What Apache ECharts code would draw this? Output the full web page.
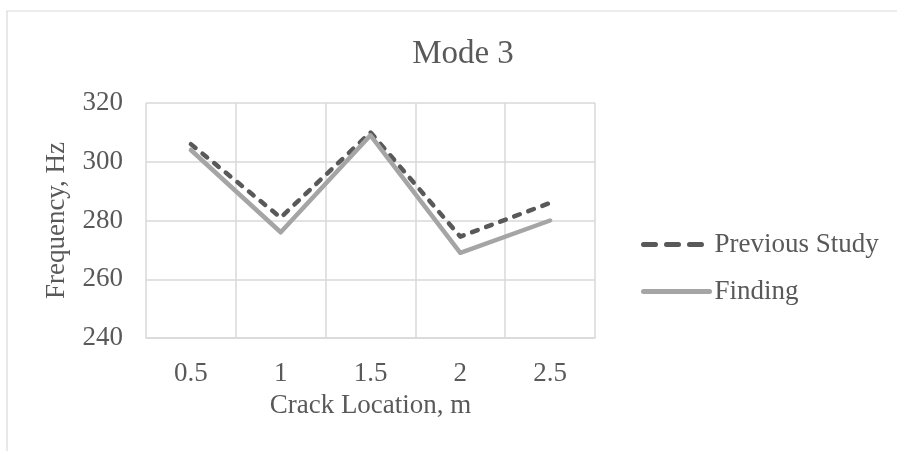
<!DOCTYPE html>
<html>
<head>
<meta charset="utf-8">
<script src="https://cdn.jsdelivr.net/npm/echarts@6/dist/echarts.min.js"></script>
<style>
html,body{margin:0;padding:0;background:#fff;}
#c{width:897px;height:451px;}
</style>
</head>
<body>
<div id="c"></div>
<script>
const categories = ['0.5', '1', '1.5', '2', '2.5'];
const previousStudy = [306, 281, 310, 274.5, 286];
const finding = [304, 276, 309, 269, 280];
const yTicks = { min: 240, max: 320, interval: 20 };
const titleText = 'Mode 3';
const xName = 'Crack Location, m';
const yName = 'Frequency, Hz';

const FONT = '"Liberation Serif", "Times New Roman", serif';
const TXT = '#595959';
const GRID = '#d9d9d9';

const chart = echarts.init(document.getElementById('c'), null, { renderer: 'canvas' });
chart.setOption({
  animation: false,
  backgroundColor: '#ffffff',
  graphic: [{
    type: 'rect',
    shape: { x: 7, y: 11, width: 1000, height: 1000 },
    style: { fill: 'none', stroke: GRID, lineWidth: 1.2 },
    silent: true,
    z: -10
  }],
  title: {
    text: titleText,
    left: 458,
    textAlign: 'center',
    top: 33,
    textStyle: { fontFamily: FONT, fontSize: 33, fontWeight: 'normal', color: TXT }
  },
  legend: {
    orient: 'vertical',
    left: 636,
    top: 226,
    itemWidth: 66,
    itemHeight: 27,
    itemGap: 20,
    textStyle: { fontFamily: FONT, fontSize: 27, color: TXT, lineHeight: 27 },
    data: [
      { name: 'Previous Study', itemStyle: { opacity: 0 }, lineStyle: { color: '#595959', width: 5, type: [12, 11], cap: 'round' } },
      { name: 'Finding', itemStyle: { opacity: 0 }, lineStyle: { color: '#a5a5a5', width: 5, cap: 'round' } }
    ]
  },
  grid: { left: 146, right: 302, top: 103, bottom: 113, containLabel: false },
  xAxis: {
    type: 'category',
    data: categories,
    boundaryGap: true,
    name: xName,
    nameLocation: 'middle',
    nameGap: 54,
    nameTextStyle: { fontFamily: FONT, fontSize: 27, color: TXT },
    axisLine: { show: true, lineStyle: { color: GRID, width: 1.5 } },
    axisTick: { show: false },
    axisLabel: { fontFamily: FONT, fontSize: 27, color: TXT, margin: 22 },
    splitLine: { show: true, lineStyle: { color: GRID, width: 1.5 } }
  },
  yAxis: {
    type: 'value',
    min: yTicks.min,
    max: yTicks.max,
    interval: yTicks.interval,
    name: yName,
    nameLocation: 'middle',
    nameGap: 76,
    nameTextStyle: { fontFamily: FONT, fontSize: 27, color: TXT },
    axisLine: { show: false },
    axisTick: { show: false },
    axisLabel: { fontFamily: FONT, fontSize: 27, color: TXT, margin: 23 },
    splitLine: { show: true, lineStyle: { color: GRID, width: 1.5 } }
  },
  series: [
    {
      name: 'Previous Study',
      type: 'line',
      data: previousStudy,
      symbol: 'none',
      lineStyle: { color: '#595959', width: 4.5, type: [6, 9], cap: 'round', join: 'round' },
      itemStyle: { color: '#595959' }
    },
    {
      name: 'Finding',
      type: 'line',
      data: finding,
      symbol: 'none',
      lineStyle: { color: '#a5a5a5', width: 4.5, cap: 'round', join: 'round' },
      itemStyle: { color: '#a5a5a5' }
    }
  ]
});
</script>
</body>
</html>
